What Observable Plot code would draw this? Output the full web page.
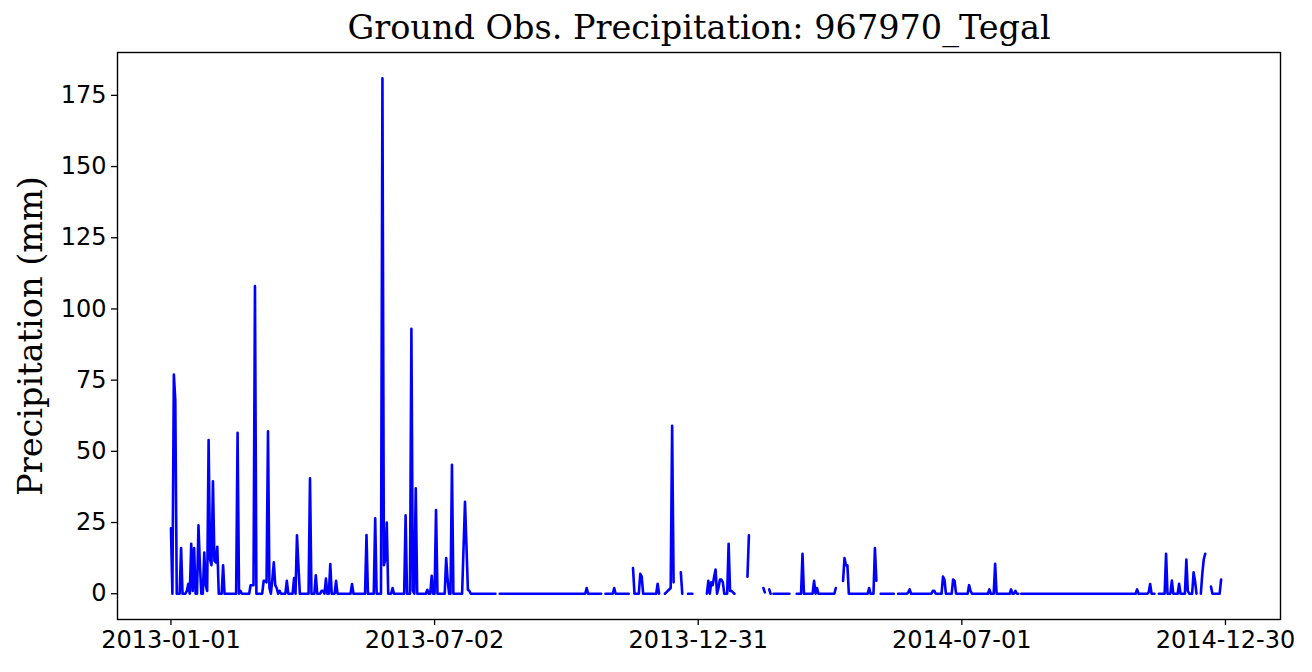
<!DOCTYPE html>
<html>
<head>
<meta charset="utf-8">
<script src="https://cdn.jsdelivr.net/npm/d3@7"></script>
<script src="https://cdn.jsdelivr.net/npm/@observablehq/plot@0.6"></script>
<style>
  html, body { margin: 0; padding: 0; background: #fff; }
  #chart { width: 1312px; height: 672px; }
</style>
</head>
<body>
<div id="chart"></div>
<script>
// ---- Data ----
const titleText = "Ground Obs. Precipitation: 967970_Tegal";
const yLabelText = "Precipitation (mm)";
const seriesStart = "2013-01-01";          // day 0 of the daily series
const lastDay = 725;                        // last observed day (days since start)

// Days (since 2013-01-01) with non-zero precipitation, and the amounts in mm
const rainDays = [0, 2, 3, 7, 11, 12, 14, 15, 16, 19, 20, 23, 24, 25, 26, 27, 28, 29, 30, 31, 32, 36, 46, 48,
  55, 56, 57, 58, 64, 65, 66, 67, 68, 70, 71, 72, 73, 75, 80, 85, 87, 88, 96, 100, 104, 105, 107, 110, 114,
  125, 135, 141, 146, 147, 148, 149, 153, 162, 166, 167, 169, 177, 180, 183, 190, 191, 194, 202, 203, 204, 205, 206,
  287, 306, 319, 324, 325, 336, 342, 343, 344, 345, 346, 347, 352,
  371, 373, 374, 375, 376, 378, 379, 380, 381, 385, 386, 387, 388, 398, 399, 409, 410, 413,
  436, 444, 446, 459, 464, 465, 466, 467, 482, 486, 487, 509, 510, 526, 527, 533, 534, 540, 541,
  551, 552, 565, 569, 580, 583, 667, 675, 676, 687, 691, 696, 701, 702, 706, 707, 712, 713, 714, 718, 725];
const rainMm = [23, 77, 68, 16, 1, 3.5, 17.5, 1, 16, 24, 10, 14.5, 3, 1, 54, 12, 10, 39.5, 11.6, 11, 16.5, 10, 56.5, 1,
  3, 3, 3, 108, 4.5, 4.5, 4, 57, 2, 5, 11, 3, 2, 1, 4.5, 5.5, 20.5, 10, 40.5, 6.5, 1, 1, 5.3, 10.4, 4.5,
  3.4, 20.6, 26.5, 181, 10, 12, 25, 2, 27.5, 93, 1, 37, 1.4, 6.3, 29.4, 12.5, 5, 45.3, 16, 32.3, 17, 1.4, 1,
  2, 2, 9, 7, 6, 3.5, 0.5, 1, 1.5, 2, 59, 4, 7.5,
  4.5, 4, 3, 6, 8.5, 2, 5, 5, 4, 17.5, 1, 1, 0.5, 6, 20.5, 2, 0.5, 1.5,
  14, 4.5, 2, 2, 4.5, 12.5, 10, 10, 2, 16, 4.6, 0.5, 1.5, 1, 1, 6, 5, 5, 4.5,
  3, 1, 1.5, 10.5, 1.5, 1, 1.5, 0.5, 3.4, 14, 4.6, 3.5, 12, 1, 7.5, 4.5, 7, 12, 14, 2.5, 5];

// Missing-data stretches (inclusive day ranges)
const gapStart = [225, 298, 317, 338, 348, 354, 361, 390, 400, 411, 415, 428, 460, 488, 500, 586, 680, 709, 715];
const gapEnd   = [226, 299, 318, 340, 351, 356, 369, 397, 408, 412, 415, 431, 463, 489, 501, 586, 681, 710, 717];

const xTickLabels = ["2013-01-01", "2013-07-02", "2013-12-31", "2014-07-01", "2014-12-30"];
const yTicks = [0, 25, 50, 75, 100, 125, 150, 175];

// ---- Build the daily table ----
const t0 = d3.utcParse("%Y-%m-%d")(seriesStart);
const dayDate = d => new Date(t0.getTime() + d * 864e5);
const rainByDay = new Map(rainDays.map((d, i) => [d, rainMm[i]]));
const isGap = d => gapStart.some((s, i) => d >= s && d <= gapEnd[i]);
const table = d3.range(0, lastDay + 1).map(d => ({
  date: dayDate(d),
  mm: isGap(d) ? NaN : (rainByDay.get(d) ?? 0)
}));

const parse = d3.utcParse("%Y-%m-%d");
const chart = Plot.plot({
  width: 1312,
  height: 672,
  marginLeft: 117,
  marginRight: 32,
  marginTop: 52,
  marginBottom: 53,
  style: { fontFamily: "DejaVu Sans", fontSize: "24px", color: "black", background: "white", overflow: "visible" },
  x: { type: "utc", domain: [dayDate(-36.9), dayDate(766)] },
  y: { domain: [-9.05, 190.05] },
  marks: [
    Plot.lineY(table, { x: "date", y: "mm", stroke: "#0000ff", strokeWidth: 2.6 }),
    Plot.frame({ stroke: "black", strokeWidth: 1.4 }),
    Plot.axisX({ ticks: xTickLabels.map(parse), tickFormat: d3.utcFormat("%Y-%m-%d"), tickSize: 6, tickPadding: 5, strokeWidth: 1.3, label: null }),
    Plot.axisY({ ticks: yTicks, tickSize: 6, tickPadding: 5, strokeWidth: 1.3, label: null }),
    Plot.text([titleText], { frameAnchor: "top", dy: -24, lineAnchor: "middle", fontFamily: "DejaVu Serif", fontSize: 33.5, fill: "black" }),
    Plot.text([yLabelText], { frameAnchor: "left", dx: -86, rotate: -90, textAnchor: "middle", lineAnchor: "middle", fontFamily: "DejaVu Serif", fontSize: 33.5, fill: "black" })
  ]
});
document.getElementById("chart").appendChild(chart);
</script>
</body>
</html>
